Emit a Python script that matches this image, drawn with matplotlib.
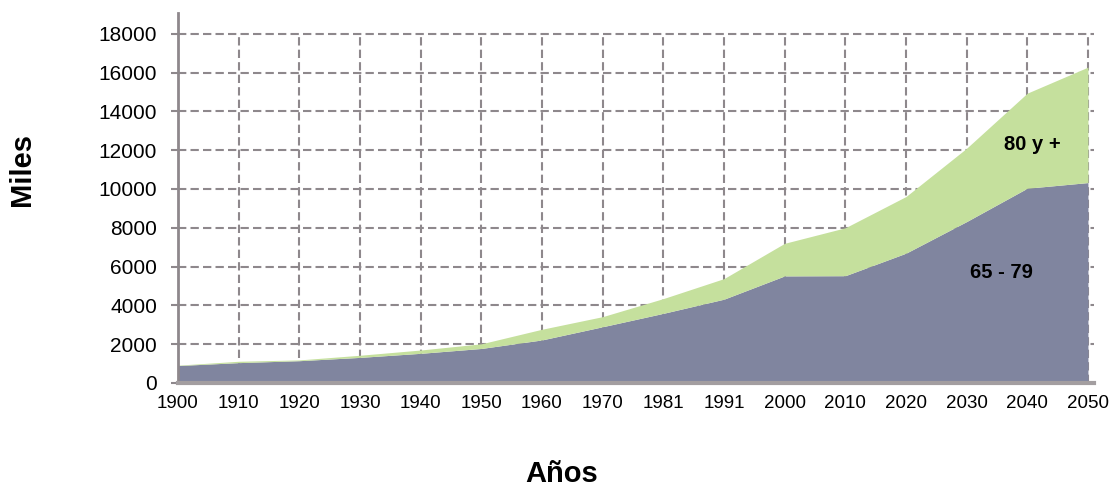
import matplotlib.pyplot as plt
import numpy as np

years = ['1900', '1910', '1920', '1930', '1940', '1950', '1960', '1970', '1981',
         '1991', '2000', '2010', '2020', '2030', '2040', '2050']
age_65_79 = [900, 1050, 1150, 1320, 1530, 1780, 2220, 2900, 3590, 4320,
             5520, 5530, 6690, 8320, 10040, 10330]
age_80_plus = [20, 70, 40, 110, 170, 240, 550, 520, 760, 1060,
               1680, 2470, 2920, 3780, 4900, 5950]

purple = '#80859f'
green = '#c5e09d'
grid_col = '#8e888c'
sans = ['Liberation Sans', 'DejaVu Sans']

fig = plt.figure(figsize=(11.1, 4.88), dpi=100)
ax = fig.add_axes([178 / 1110, 1 - 383 / 488, (1094 - 178) / 1110, (383 - 13) / 488])

x = np.arange(len(years))
low = np.array(age_65_79)
top = low + np.array(age_80_plus)
ax.fill_between(x, 0, low, color=purple, lw=0, zorder=2)
ax.fill_between(x, low, top, color=green, lw=0, zorder=2)

ax.set_xlim(0, 15.1)
ax.set_ylim(0, 19070)
ax.set_yticks(range(0, 18001, 2000))
ax.set_xticks(x)
ax.set_xticklabels(years, family=sans, fontsize=13.5)
ax.tick_params(axis='x', length=0, pad=9)
ax.tick_params(axis='y', length=5, width=1.5, color=grid_col, pad=10, labelsize=15)
for lab in ax.get_yticklabels():
    lab.set_family(sans)

for v in range(2000, 18001, 2000):
    ax.axhline(v, color=grid_col, lw=1.5, ls=(0, (4, 2)), zorder=1)
for i in range(1, len(years)):
    ax.axvline(i, ymax=18000 / 19070, color=grid_col, lw=1.5, ls=(0, (4, 2)), zorder=1)

for s in ['top', 'right']:
    ax.spines[s].set_visible(False)
ax.spines['left'].set_color(grid_col)
ax.spines['left'].set_linewidth(2)
ax.spines['bottom'].set_color('#a39ea0')
ax.spines['bottom'].set_linewidth(3)
ax.spines['bottom'].set_zorder(3)

ax.text(14.08, 12270, '80 y +', ha='center', va='center', fontsize=14.5, fontweight='bold',
        family=sans, zorder=4)
ax.text(13.58, 5670, '65 - 79', ha='center', va='center', fontsize=14.5, fontweight='bold',
        family=sans, zorder=4)

fig.text(22 / 1110, 1 - 169 / 488, 'Miles', rotation=90, ha='center', va='center',
         fontsize=21, fontweight='bold', family=sans)
fig.text(562 / 1110, 1 - 474 / 488, 'Años', ha='center', va='center',
         fontsize=21, fontweight='bold', family=sans)

fig.savefig('out.png', dpi=100)
